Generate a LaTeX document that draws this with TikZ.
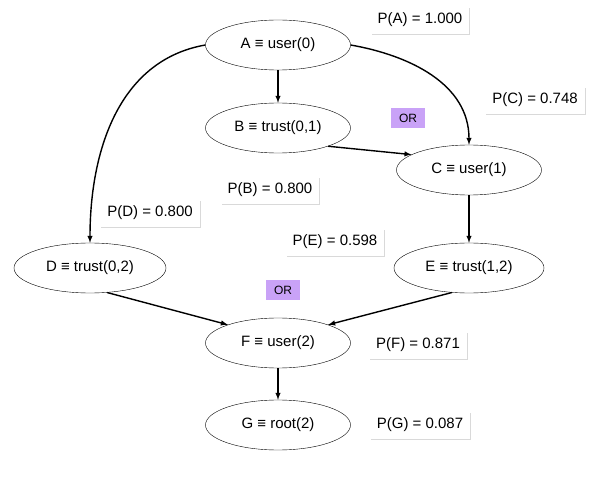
\documentclass[tikz,border=0pt]{standalone}
\usepackage{fontspec}
\setmainfont{Liberation Sans}
\usetikzlibrary{shapes.geometric}
\usetikzlibrary{positioning}
\usetikzlibrary{shadows}
\definecolor{orfill}{HTML}{C9A2F7}
\begin{document}
\begin{tikzpicture}[
    x=1pt, y=-1pt,
    state/.style={
        ellipse,
        draw,
        minimum width={145pt},
        minimum height={50pt},
        font=\fontsize{15}{17}\selectfont
    },
    prob/.style={
        rectangle,
        fill=white,
        drop shadow={shadow xshift=1pt, shadow yshift=-1.5pt, opacity=0.3},
        inner sep=7pt,
        font=\fontsize{15}{17}\selectfont
    },
    gate/.style={
        rectangle,
        fill=orfill,
        minimum width={34pt},
        minimum height={20pt},
        font=\fontsize{12}{14}\selectfont
    }
]
\useasboundingbox (0,0) rectangle (610,486);
\node [state] (A) at (278, 45) {A ≡ user(0)};
\node [state] (B) at (278, 128) {B ≡ trust(0,1)};
\node [state] (C) at (469, 170) {C ≡ user(1)};
\node [state, minimum width={152pt}] (D) at (90, 268) {D ≡ trust(0,2)};
\node [state, minimum width={150pt}] (E) at (469, 268) {E ≡ trust(1,2)};
\node [state] (F) at (278, 343) {F ≡ user(2)};
\node [state] (G) at (278, 425) {G ≡ root(2)};

\node [prob] (pa) at (420, 20) {P(A) = 1.000};
\node [prob] (pc) at (535, 100) {P(C) = 0.748};
\node [prob] (pb) at (270, 190) {P(B) = 0.800};
\node [prob] (pd) at (150, 213) {P(D) = 0.800};
\node [prob] (pe) at (335, 242) {P(E) = 0.598};
\node [prob] (pf) at (418, 345) {P(F) = 0.871};
\node [prob] (pg) at (420, 425) {P(G) = 0.087};

\node [gate] (or1) at (408, 118) {OR};
\node [gate] (or2) at (283, 290) {OR};

\draw[->,>=latex,line width=1.4pt] (A.south) -- (B.north);
\draw[->,>=latex,line width=1.4pt] (A.east) to[out=-10,in=90] (C.north);
\draw[->,>=latex,line width=1.4pt] (A.west) to[out=190,in=90] (D.north);
\draw[->,>=latex,line width=1.4pt] (B.-20) -- (C.165);
\draw[->,>=latex,line width=1.4pt] (C.south) -- (E.north);
\draw[->,>=latex,line width=1.4pt] (D.-55) -- (F.160);
\draw[->,>=latex,line width=1.4pt] (E.-125) -- (F.20);
\draw[->,>=latex,line width=1.4pt] (F.south) -- (G.north);
\end{tikzpicture}
\end{document}
